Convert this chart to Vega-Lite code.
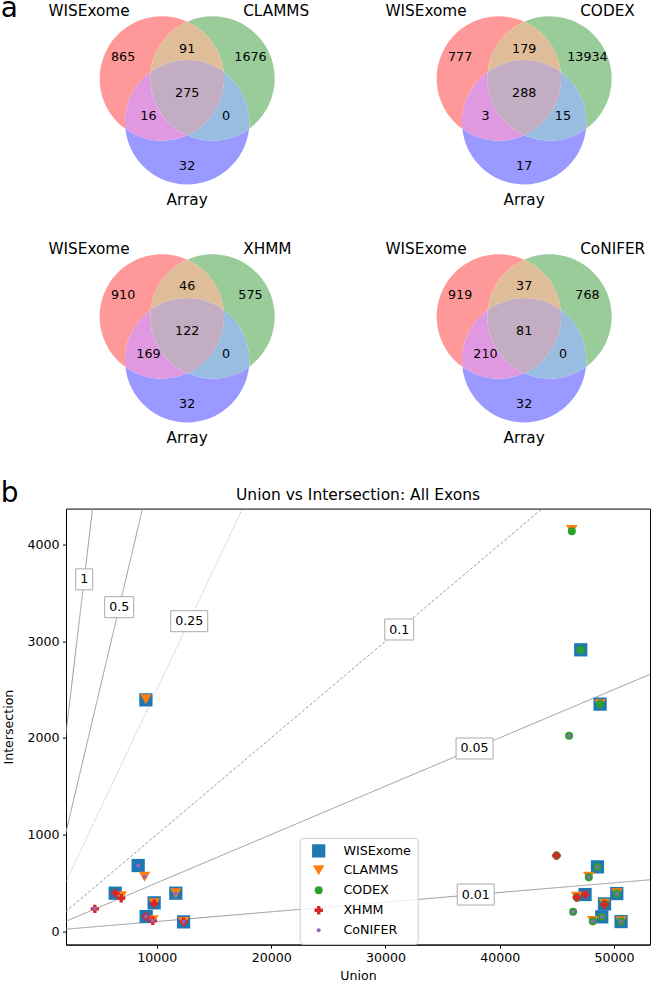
{
  "$schema": "https://vega.github.io/schema/vega-lite/v6.json",
  "padding": {"top": -5.3, "left": 0, "right": 0, "bottom": 0},
  "spacing": 1.9,
  "resolve": {
    "scale": {"color": "independent", "shape": "independent", "size": "independent", "stroke": "independent", "strokeDash": "independent"},
    "legend": {"color": "independent", "shape": "independent", "size": "independent"}
  },
  "config": {
    "view": {"stroke": null},
    "font": "DejaVu Sans",
    "text": {"font": "DejaVu Sans", "color": "black"},
    "header": {"labels": false, "title": null},
    "headerFacet": {"labels": false, "title": null}
  },
  "vconcat": [
    {
      "data": {
        "values": [
          {"kind": "region", "panel": 1, "region": "A", "count": 865},
          {"kind": "region", "panel": 1, "region": "B", "count": 1676},
          {"kind": "region", "panel": 1, "region": "C", "count": 32},
          {"kind": "region", "panel": 1, "region": "AB", "count": 91},
          {"kind": "region", "panel": 1, "region": "AC", "count": 16},
          {"kind": "region", "panel": 1, "region": "BC", "count": 0},
          {"kind": "region", "panel": 1, "region": "ABC", "count": 275},
          {"kind": "set", "panel": 1, "side": "left", "name": "WISExome"},
          {"kind": "set", "panel": 1, "side": "right", "name": "CLAMMS"},
          {"kind": "set", "panel": 1, "side": "bottom", "name": "Array"},
          {"kind": "tag", "panel": 1, "name": "a"},
          {"kind": "region", "panel": 2, "region": "A", "count": 777},
          {"kind": "region", "panel": 2, "region": "B", "count": 13934},
          {"kind": "region", "panel": 2, "region": "C", "count": 17},
          {"kind": "region", "panel": 2, "region": "AB", "count": 179},
          {"kind": "region", "panel": 2, "region": "AC", "count": 3},
          {"kind": "region", "panel": 2, "region": "BC", "count": 15},
          {"kind": "region", "panel": 2, "region": "ABC", "count": 288},
          {"kind": "set", "panel": 2, "side": "left", "name": "WISExome"},
          {"kind": "set", "panel": 2, "side": "right", "name": "CODEX"},
          {"kind": "set", "panel": 2, "side": "bottom", "name": "Array"},
          {"kind": "region", "panel": 3, "region": "A", "count": 910},
          {"kind": "region", "panel": 3, "region": "B", "count": 575},
          {"kind": "region", "panel": 3, "region": "C", "count": 32},
          {"kind": "region", "panel": 3, "region": "AB", "count": 46},
          {"kind": "region", "panel": 3, "region": "AC", "count": 169},
          {"kind": "region", "panel": 3, "region": "BC", "count": 0},
          {"kind": "region", "panel": 3, "region": "ABC", "count": 122},
          {"kind": "set", "panel": 3, "side": "left", "name": "WISExome"},
          {"kind": "set", "panel": 3, "side": "right", "name": "XHMM"},
          {"kind": "set", "panel": 3, "side": "bottom", "name": "Array"},
          {"kind": "region", "panel": 4, "region": "A", "count": 919},
          {"kind": "region", "panel": 4, "region": "B", "count": 768},
          {"kind": "region", "panel": 4, "region": "C", "count": 32},
          {"kind": "region", "panel": 4, "region": "AB", "count": 37},
          {"kind": "region", "panel": 4, "region": "AC", "count": 210},
          {"kind": "region", "panel": 4, "region": "BC", "count": 0},
          {"kind": "region", "panel": 4, "region": "ABC", "count": 81},
          {"kind": "set", "panel": 4, "side": "left", "name": "WISExome"},
          {"kind": "set", "panel": 4, "side": "right", "name": "CoNIFER"},
          {"kind": "set", "panel": 4, "side": "bottom", "name": "Array"}
        ]
      },
      "facet": {"field": "panel", "type": "ordinal", "title": null, "header": {"labels": false, "title": null, "labelFontSize": 0, "labelPadding": 0, "labelExpr": "''"}},
      "columns": 2,
      "spacing": {"row": 0, "column": 0},
      "spec": {
        "width": 319,
        "height": 237.5,
        "layer": [
          {
            "transform": [{"filter": "datum.kind === 'region'"}],
            "mark": {"type": "point", "filled": true, "opacity": 1, "size": 15475, "strokeWidth": 0},
            "encoding": {
              "x": {"datum": 0, "type": "quantitative", "scale": {"domain": [-1.94855, 3.18006], "nice": false, "zero": false}, "axis": null},
              "y": {"datum": 0, "type": "quantitative", "scale": {"domain": [-2.3328, 1.48553], "nice": false, "zero": false}, "axis": null},
              "shape": {
                "field": "region", "type": "nominal", "legend": null,
                "scale": {
                  "domain": ["A", "B", "C", "AB", "AC", "BC", "ABC"],
                  "range": [
                    "M0,-1.1484A1,1,0,0,0,-0.9945,0.5742A1,1,0,0,1,-0.588,-0.3395A1,1,0,0,1,0,-1.1484Z",
                    "M0,-1.1484A1,1,0,0,1,0.9945,0.5742A1,1,0,0,0,0.588,-0.3395A1,1,0,0,0,0,-1.1484Z",
                    "M-0.9945,0.5742A1,1,0,0,0,0.9945,0.5742A1,1,0,0,1,0,0.679A1,1,0,0,1,-0.9945,0.5742Z",
                    "M0,-1.1484A1,1,0,0,1,0.588,-0.3395A1,1,0,0,0,-0.588,-0.3395A1,1,0,0,1,0,-1.1484Z",
                    "M-0.9945,0.5742A1,1,0,0,1,-0.588,-0.3395A1,1,0,0,0,0,0.679A1,1,0,0,1,-0.9945,0.5742Z",
                    "M0.9945,0.5742A1,1,0,0,0,0.588,-0.3395A1,1,0,0,1,0,0.679A1,1,0,0,0,0.9945,0.5742Z",
                    "M-0.588,-0.3395A1,1,0,0,1,0.588,-0.3395A1,1,0,0,1,0,0.679A1,1,0,0,1,-0.588,-0.3395Z"
                  ]
                }
              },
              "color": {
                "field": "region", "type": "nominal", "legend": null,
                "scale": {
                  "domain": ["A", "B", "C", "AB", "AC", "BC", "ABC"],
                  "range": ["#ff9999", "#99cc99", "#9999ff", "#e0bd99", "#e099e0", "#99bde0", "#c2adc2"]
                }
              }
            }
          },
          {
            "transform": [{"filter": "datum.kind === 'region' && datum.region === 'A'"}],
            "mark": {"type": "text", "fontSize": 12.7, "baseline": "middle"},
            "encoding": {"x": {"datum": -1.03}, "y": {"datum": 0.587}, "text": {"field": "count", "type": "nominal"}}
          },
          {
            "transform": [{"filter": "datum.kind === 'region' && datum.region === 'B'"}],
            "mark": {"type": "text", "fontSize": 12.7, "baseline": "middle"},
            "encoding": {"x": {"datum": 1.017}, "y": {"datum": 0.587}, "text": {"field": "count", "type": "nominal"}}
          },
          {
            "transform": [{"filter": "datum.kind === 'region' && datum.region === 'C'"}],
            "mark": {"type": "text", "fontSize": 12.7, "baseline": "middle"},
            "encoding": {"x": {"datum": 0}, "y": {"datum": -1.175}, "text": {"field": "count", "type": "nominal"}}
          },
          {
            "transform": [{"filter": "datum.kind === 'region' && datum.region === 'AB'"}],
            "mark": {"type": "text", "fontSize": 12.7, "baseline": "middle"},
            "encoding": {"x": {"datum": 0}, "y": {"datum": 0.717}, "text": {"field": "count", "type": "nominal"}}
          },
          {
            "transform": [{"filter": "datum.kind === 'region' && datum.region === 'AC'"}],
            "mark": {"type": "text", "fontSize": 12.7, "baseline": "middle"},
            "encoding": {"x": {"datum": -0.623}, "y": {"datum": -0.363}, "text": {"field": "count", "type": "nominal"}}
          },
          {
            "transform": [{"filter": "datum.kind === 'region' && datum.region === 'BC'"}],
            "mark": {"type": "text", "fontSize": 12.7, "baseline": "middle"},
            "encoding": {"x": {"datum": 0.623}, "y": {"datum": -0.363}, "text": {"field": "count", "type": "nominal"}}
          },
          {
            "transform": [{"filter": "datum.kind === 'region' && datum.region === 'ABC'"}],
            "mark": {"type": "text", "fontSize": 12.7, "baseline": "middle"},
            "encoding": {"x": {"datum": 0}, "y": {"datum": 0.005}, "text": {"field": "count", "type": "nominal"}}
          },
          {
            "transform": [{"filter": "datum.kind === 'set' && datum.side === 'left'"}],
            "mark": {"type": "text", "fontSize": 15.3, "baseline": "middle", "align": "right"},
            "encoding": {"x": {"datum": -0.925}, "y": {"datum": 1.312}, "text": {"field": "name", "type": "nominal"}}
          },
          {
            "transform": [{"filter": "datum.kind === 'set' && datum.side === 'right'"}],
            "mark": {"type": "text", "fontSize": 15.3, "baseline": "middle", "align": "left"},
            "encoding": {"x": {"datum": 0.9}, "y": {"datum": 1.312}, "text": {"field": "name", "type": "nominal"}}
          },
          {
            "transform": [{"filter": "datum.kind === 'set' && datum.side === 'bottom'"}],
            "mark": {"type": "text", "fontSize": 15.3, "baseline": "middle", "align": "center"},
            "encoding": {"x": {"datum": 0}, "y": {"datum": -1.711}, "text": {"field": "name", "type": "nominal"}}
          },
          {
            "transform": [{"filter": "datum.kind === 'tag'"}],
            "mark": {"type": "text", "fontSize": 28, "baseline": "top", "align": "left"},
            "encoding": {"x": {"datum": -2.99839}, "y": {"datum": 1.5707}, "text": {"field": "name", "type": "nominal"}}
          }
        ]
      }
    },
    {
      "width": 584,
      "height": 436,
      "view": {"stroke": "black", "strokeWidth": 1},
      "layer": [
        {
          "data": {
            "values": [
              {"ratio": "1", "x0": 0, "y0": 0, "x1": 60000, "y1": 60000},
              {"ratio": "0.5", "x0": 0, "y0": 0, "x1": 60000, "y1": 30000},
              {"ratio": "0.25", "x0": 0, "y0": 0, "x1": 60000, "y1": 15000},
              {"ratio": "0.1", "x0": 0, "y0": 0, "x1": 60000, "y1": 6000},
              {"ratio": "0.05", "x0": 0, "y0": 0, "x1": 60000, "y1": 3000},
              {"ratio": "0.01", "x0": 0, "y0": 0, "x1": 60000, "y1": 600}
            ]
          },
          "mark": {"type": "rule", "clip": true, "strokeWidth": 1},
          "encoding": {
            "x": {"field": "x0", "type": "quantitative", "title": "Union", "scale": {"domain": [2050, 53150], "nice": false, "zero": false}},
            "y": {"field": "y0", "type": "quantitative", "title": "Intersection", "scale": {"domain": [-139, 4372], "nice": false, "zero": false}},
            "x2": {"field": "x1"},
            "y2": {"field": "y1"},
            "stroke": {"field": "ratio", "type": "nominal", "legend": null, "scale": {"domain": ["1", "0.5", "0.25", "0.1", "0.05", "0.01"], "range": ["#999999", "#999999", "#b0b0b0", "#999999", "#999999", "#999999"]}},
            "strokeDash": {"field": "ratio", "type": "nominal", "legend": null, "scale": {"domain": ["1", "0.5", "0.25", "0.1", "0.05", "0.01"], "range": [[1, 0], [1, 0], [1, 1.5], [3, 2], [1, 0], [1, 0]]}}
          }
        },
        {
          "data": {"values": [
            {"label": "1", "lx": 3640, "ly": 3640},
            {"label": "0.5", "lx": 6704, "ly": 3352},
            {"label": "0.25", "lx": 12830, "ly": 3207},
            {"label": "0.1", "lx": 31210, "ly": 3121},
            {"label": "0.05", "lx": 37800, "ly": 1890},
            {"label": "0.01", "lx": 37900, "ly": 379}
          ]},
          "layer": [
            {
              "transform": [{"filter": "datum.label === '1'"}],
              "mark": {"type": "point", "filled": true, "fill": "white", "stroke": "#aaaaaa", "strokeWidth": 1, "opacity": 1, "size": 1600, "shape": "M-0.425,-0.525L0.425,-0.525L0.425,0.525L-0.425,0.525Z"},
              "encoding": {
                "x": {"field": "lx", "type": "quantitative", "title": "Union", "scale": {"domain": [2050, 53150], "nice": false, "zero": false}},
                "y": {"field": "ly", "type": "quantitative", "title": "Intersection", "scale": {"domain": [-139, 4372], "nice": false, "zero": false}}
              }
            },
            {
              "transform": [{"filter": "datum.label === '0.5' || datum.label === '0.1'"}],
              "mark": {"type": "point", "filled": true, "fill": "white", "stroke": "#aaaaaa", "strokeWidth": 1, "opacity": 1, "size": 1600, "shape": "M-0.725,-0.525L0.725,-0.525L0.725,0.525L-0.725,0.525Z"},
              "encoding": {
                "x": {"field": "lx", "type": "quantitative", "title": "Union", "scale": {"domain": [2050, 53150], "nice": false, "zero": false}},
                "y": {"field": "ly", "type": "quantitative", "title": "Intersection", "scale": {"domain": [-139, 4372], "nice": false, "zero": false}}
              }
            },
            {
              "transform": [{"filter": "datum.label === '0.25' || datum.label === '0.05' || datum.label === '0.01'"}],
              "mark": {"type": "point", "filled": true, "fill": "white", "stroke": "#aaaaaa", "strokeWidth": 1, "opacity": 1, "size": 1600, "shape": "M-0.925,-0.525L0.925,-0.525L0.925,0.525L-0.925,0.525Z"},
              "encoding": {
                "x": {"field": "lx", "type": "quantitative", "title": "Union", "scale": {"domain": [2050, 53150], "nice": false, "zero": false}},
                "y": {"field": "ly", "type": "quantitative", "title": "Intersection", "scale": {"domain": [-139, 4372], "nice": false, "zero": false}}
              }
            },
            {
              "mark": {"type": "text", "fontSize": 12.6, "baseline": "middle", "align": "center", "color": "black"},
              "encoding": {
                "x": {"field": "lx", "type": "quantitative", "title": "Union", "scale": {"domain": [2050, 53150], "nice": false, "zero": false}},
                "y": {"field": "ly", "type": "quantitative", "title": "Intersection", "scale": {"domain": [-139, 4372], "nice": false, "zero": false}},
                "text": {"field": "label", "type": "nominal"}
              }
            }
          ]
        },
        {
          "data": {
            "values": [
              {"method": "WISExome", "union": 9040, "intersection": 2393},
              {"method": "WISExome", "union": 8365, "intersection": 679},
              {"method": "WISExome", "union": 6355, "intersection": 393},
              {"method": "WISExome", "union": 9765, "intersection": 293},
              {"method": "WISExome", "union": 11660, "intersection": 393},
              {"method": "WISExome", "union": 9065, "intersection": 151},
              {"method": "WISExome", "union": 12335, "intersection": 96},
              {"method": "WISExome", "union": 47090, "intersection": 2911},
              {"method": "WISExome", "union": 48785, "intersection": 2349},
              {"method": "WISExome", "union": 48555, "intersection": 665},
              {"method": "WISExome", "union": 47470, "intersection": 379},
              {"method": "WISExome", "union": 50245, "intersection": 389},
              {"method": "WISExome", "union": 49170, "intersection": 282},
              {"method": "WISExome", "union": 48930, "intersection": 148},
              {"method": "WISExome", "union": 50620, "intersection": 99},
              {"method": "CLAMMS", "union": 9040, "intersection": 2400},
              {"method": "CLAMMS", "union": 8925, "intersection": 562},
              {"method": "CLAMMS", "union": 6880, "intersection": 362},
              {"method": "CLAMMS", "union": 9765, "intersection": 290},
              {"method": "CLAMMS", "union": 11660, "intersection": 393},
              {"method": "CLAMMS", "union": 9650, "intersection": 112},
              {"method": "CLAMMS", "union": 12335, "intersection": 96},
              {"method": "CLAMMS", "union": 46310, "intersection": 4150},
              {"method": "CLAMMS", "union": 48785, "intersection": 2349},
              {"method": "CLAMMS", "union": 47795, "intersection": 562},
              {"method": "CLAMMS", "union": 46745, "intersection": 355},
              {"method": "CLAMMS", "union": 50245, "intersection": 392},
              {"method": "CLAMMS", "union": 49170, "intersection": 285},
              {"method": "CLAMMS", "union": 48145, "intersection": 106},
              {"method": "CLAMMS", "union": 50620, "intersection": 102},
              {"method": "CODEX", "union": 46310, "intersection": 4138},
              {"method": "CODEX", "union": 47090, "intersection": 2911},
              {"method": "CODEX", "union": 48785, "intersection": 2349},
              {"method": "CODEX", "union": 46070, "intersection": 2021},
              {"method": "CODEX", "union": 44970, "intersection": 782},
              {"method": "CODEX", "union": 48555, "intersection": 665},
              {"method": "CODEX", "union": 47795, "intersection": 559},
              {"method": "CODEX", "union": 46745, "intersection": 348},
              {"method": "CODEX", "union": 50245, "intersection": 389},
              {"method": "CODEX", "union": 49170, "intersection": 282},
              {"method": "CODEX", "union": 46420, "intersection": 200},
              {"method": "CODEX", "union": 48930, "intersection": 148},
              {"method": "CODEX", "union": 48145, "intersection": 103},
              {"method": "CODEX", "union": 50620, "intersection": 99},
              {"method": "XHMM", "union": 6355, "intersection": 393},
              {"method": "XHMM", "union": 6880, "intersection": 341},
              {"method": "XHMM", "union": 4575, "intersection": 231},
              {"method": "XHMM", "union": 9765, "intersection": 285},
              {"method": "XHMM", "union": 9065, "intersection": 151},
              {"method": "XHMM", "union": 9650, "intersection": 106},
              {"method": "XHMM", "union": 12335, "intersection": 96},
              {"method": "XHMM", "union": 44970, "intersection": 782},
              {"method": "XHMM", "union": 47470, "intersection": 379},
              {"method": "XHMM", "union": 46745, "intersection": 348},
              {"method": "XHMM", "union": 49170, "intersection": 276},
              {"method": "CoNIFER", "union": 8365, "intersection": 679},
              {"method": "CoNIFER", "union": 8925, "intersection": 562},
              {"method": "CoNIFER", "union": 4575, "intersection": 231},
              {"method": "CoNIFER", "union": 11660, "intersection": 393},
              {"method": "CoNIFER", "union": 9065, "intersection": 151},
              {"method": "CoNIFER", "union": 9650, "intersection": 110},
              {"method": "CoNIFER", "union": 12335, "intersection": 96},
              {"method": "CoNIFER", "union": 46070, "intersection": 2021},
              {"method": "CoNIFER", "union": 48555, "intersection": 665},
              {"method": "CoNIFER", "union": 47795, "intersection": 559},
              {"method": "CoNIFER", "union": 50245, "intersection": 389},
              {"method": "CoNIFER", "union": 46420, "intersection": 200},
              {"method": "CoNIFER", "union": 48930, "intersection": 148},
              {"method": "CoNIFER", "union": 48145, "intersection": 103},
              {"method": "CoNIFER", "union": 50620, "intersection": 99}
            ]
          },
          "mark": {"type": "point", "filled": true, "opacity": 1, "strokeWidth": 0},
          "encoding": {
            "x": {
              "field": "union", "type": "quantitative", "title": "Union",
              "scale": {"domain": [2050, 53150], "nice": false, "zero": false},
              "axis": {"values": [10000, 20000, 30000, 40000, 50000], "format": "d", "grid": false, "tickSize": 3.5, "tickColor": "black", "domainColor": "black", "labelColor": "black", "labelFontSize": 12.6, "labelPadding": 3.5, "labelFlush": false, "titleFontSize": 12.6, "titleFontWeight": "normal", "titleColor": "black", "titlePadding": 5}
            },
            "y": {
              "field": "intersection", "type": "quantitative", "title": "Intersection",
              "scale": {"domain": [-139, 4372], "nice": false, "zero": false},
              "axis": {"values": [0, 1000, 2000, 3000, 4000], "format": "d", "grid": false, "tickSize": 3.5, "tickColor": "black", "domainColor": "black", "labelColor": "black", "labelFontSize": 12.6, "labelPadding": 3.5, "labelFlush": false, "titleFontSize": 12.6, "titleFontWeight": "normal", "titleColor": "black", "titleX": -57.5, "titleBaseline": "middle"}
            },
            "color": {
              "field": "method", "type": "nominal",
              "scale": {"domain": ["WISExome", "CLAMMS", "CODEX", "XHMM", "CoNIFER"], "range": ["#1f77b4", "#ff7f0e", "#2ca02c", "#d62728", "#9467bd"]},
              "legend": {"title": null, "orient": "none", "legendX": 233.7, "legendY": 329.3, "padding": 6, "rowPadding": 6, "symbolOffset": 6, "labelOffset": 17.7, "labelFontSize": 12.7, "labelColor": "black", "strokeColor": "#cccccc", "fillColor": "rgba(255,255,255,0.8)", "cornerRadius": 3, "symbolStrokeWidth": 0, "symbolOpacity": 1}
            },
            "shape": {
              "field": "method", "type": "nominal",
              "scale": {"domain": ["WISExome", "CLAMMS", "CODEX", "XHMM", "CoNIFER"], "range": ["square", "triangle-down", "circle", "cross", "circle"]},
              "legend": {"title": null, "orient": "none", "legendX": 233.7, "legendY": 329.3, "padding": 6, "rowPadding": 6, "symbolOffset": 6, "labelOffset": 17.7, "labelFontSize": 12.7, "labelColor": "black", "strokeColor": "#cccccc", "fillColor": "rgba(255,255,255,0.8)", "cornerRadius": 3, "symbolStrokeWidth": 0, "symbolOpacity": 1}
            },
            "size": {
              "field": "method", "type": "nominal",
              "scale": {"type": "ordinal", "domain": ["WISExome", "CLAMMS", "CODEX", "XHMM", "CoNIFER"], "range": [175, 132, 64, 70, 16]},
              "legend": {"title": null, "orient": "none", "legendX": 233.7, "legendY": 329.3, "padding": 6, "rowPadding": 6, "symbolOffset": 6, "labelOffset": 17.7, "labelFontSize": 12.7, "labelColor": "black", "strokeColor": "#cccccc", "fillColor": "rgba(255,255,255,0.8)", "cornerRadius": 3, "symbolStrokeWidth": 0, "symbolOpacity": 1}
            }
          }
        },
        {
          "data": {"values": [{"tag": "b"}]},
          "mark": {"type": "text", "fontSize": 28, "baseline": "top", "align": "left", "color": "black"},
          "encoding": {
            "x": {"datum": -3664, "type": "quantitative", "scale": {"domain": [2050, 53150], "nice": false, "zero": false}},
            "y": {"datum": 4670, "type": "quantitative", "scale": {"domain": [-139, 4372], "nice": false, "zero": false}},
            "text": {"field": "tag", "type": "nominal"}
          }
        },
        {
          "data": {"values": [{"heading": "Union vs Intersection: All Exons"}]},
          "mark": {"type": "text", "fontSize": 15.5, "baseline": "alphabetic", "align": "center", "color": "black"},
          "encoding": {
            "x": {"datum": 27600, "type": "quantitative", "scale": {"domain": [2050, 53150], "nice": false, "zero": false}},
            "y": {"datum": 4465, "type": "quantitative", "scale": {"domain": [-139, 4372], "nice": false, "zero": false}},
            "text": {"field": "heading", "type": "nominal"}
          }
        }
      ]
    }
  ]
}
